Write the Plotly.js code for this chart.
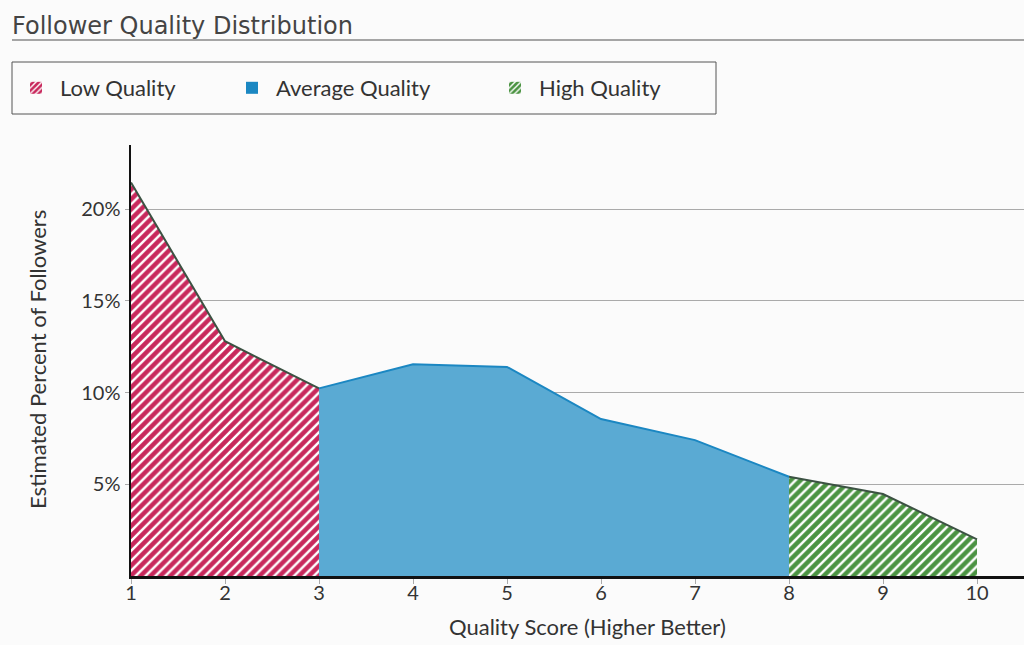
<!DOCTYPE html>
<html>
<head>
<meta charset="utf-8">
<script src="https://cdn.plot.ly/plotly-3.0.1.min.js"></script>
<style>
  html, body { margin: 0; padding: 0; background: #fbfbfb; }
  #chart { width: 1024px; height: 645px; }
</style>
</head>
<body>
<div id="chart"></div>
<script>
// quality score on the x axis, estimated percent of followers on y
var scores = [1, 2, 3, 4, 5, 6, 7, 8, 9, 10];
var percents = [21.45, 12.8, 10.23, 11.54, 11.4, 8.56, 7.41, 5.41, 4.47, 2.0];

// where each band starts / ends
var lowEnd = 3;     // scores 1..3
var highStart = 8;  // scores 8..10

var bandNames = ['Low Quality', 'Average Quality', 'High Quality'];
var yTicks = [5, 10, 15, 20];
var yTickText = ['5%', '10%', '15%', '20%'];

var red = '#c8285c';
var blue = '#5aaad3';
var blueLine = '#1b87c2';
var green = '#4b9342';
var darkLine = '#3c5243';

function band(from, to) {
  return {
    x: scores.filter(function (s) { return s >= from && s <= to; }),
    y: percents.filter(function (p, i) { return scores[i] >= from && scores[i] <= to; })
  };
}

var low = band(1, lowEnd);
var avg = band(lowEnd, highStart);
var high = band(highStart, 10);

var stripe = function (c) {
  return { shape: '/', bgcolor: c, fgcolor: '#ffffff', size: 7, solidity: 0.35 };
};

var traceLow = {
  x: low.x, y: low.y, type: 'scatter', mode: 'lines', fill: 'tozeroy',
  fillcolor: red, fillpattern: stripe(red),
  line: { color: darkLine, width: 2 }, showlegend: false
};
var traceAvg = {
  x: avg.x, y: avg.y, type: 'scatter', mode: 'lines', fill: 'tozeroy',
  fillcolor: blue, line: { color: blueLine, width: 2 }, showlegend: false
};
var traceHigh = {
  x: high.x, y: high.y, type: 'scatter', mode: 'lines', fill: 'tozeroy',
  fillcolor: green, fillpattern: stripe(green),
  line: { color: darkLine, width: 2 }, showlegend: false
};

// empty bar traces just for the square legend swatches
function legendItem(name, color, pattern, w) {
  var m = { color: color, line: { width: 0 } };
  if (pattern) m.pattern = { shape: '/', bgcolor: color, fgcolor: '#ffffff', size: 5, solidity: 0.35 };
  return { x: [null], y: [null], type: 'bar', name: name, marker: m, legendwidth: w };
}

var data = [
  traceLow, traceAvg, traceHigh,
  legendItem(bandNames[0], red, true, 163),
  legendItem(bandNames[1], blueLine, false, 210),
  legendItem(bandNames[2], green, true, 130)
];

// plot area is 131..1024 px wide, 145..576 px tall
var pw = 893, ph = 431;
function px(x) { return (x - 131) / pw; }
function py(y) { return (576 - y) / ph; }

var layout = {
  width: 1024,
  height: 645,
  paper_bgcolor: '#fbfbfb',
  plot_bgcolor: '#fbfbfb',
  margin: { l: 131, r: 0, t: 145, b: 69 },
  font: { family: 'Lato, sans-serif', color: '#333' },
  title: {
    text: 'Follower Quality Distribution',
    xref: 'container', x: 12 / 1024, xanchor: 'left',
    yref: 'container', y: 1 - 26 / 645, yanchor: 'middle',
    font: { family: 'DejaVu Sans, sans-serif', size: 24, color: '#444' }
  },
  showlegend: true,
  legend: {
    orientation: 'h',
    x: px(12), xanchor: 'left',
    y: py(88), yanchor: 'middle',
    itemwidth: 38,
    font: { size: 22, color: '#333' },
    bgcolor: 'rgba(0,0,0,0)'
  },
  xaxis: {
    type: 'linear',
    range: [1, 10.5],
    tickvals: scores,
    ticks: 'outside', ticklen: 5, tickcolor: '#aaa',
    ticklabelstandoff: -8,
    tickfont: { size: 20, color: '#333' },
    showgrid: false, zeroline: false,
    showline: true, linecolor: '#111', linewidth: 3,
    fixedrange: true
  },
  yaxis: {
    range: [0, 23.5],
    tickvals: yTicks,
    ticktext: yTickText,
    ticks: 'outside', ticklen: 4, tickcolor: '#aaa',
    tickfont: { size: 20, color: '#333' },
    showgrid: true, gridcolor: '#aaa', gridwidth: 1,
    zeroline: false,
    showline: true, linecolor: '#111', linewidth: 2.5,
    fixedrange: true
  },
  annotations: [
    { text: 'Quality Score (Higher Better)', xref: 'paper', yref: 'paper',
      x: px(587), y: py(626), xanchor: 'center', yanchor: 'middle', showarrow: false,
      font: { size: 22, color: '#333' } },
    { text: 'Estimated Percent of Followers', xref: 'paper', yref: 'paper',
      x: px(37), y: py(360), xanchor: 'center', yanchor: 'middle', showarrow: false,
      textangle: -90, font: { size: 22, color: '#333' } }
  ],
  shapes: [
    // rule under the title
    { type: 'line', xref: 'paper', yref: 'paper', x0: px(12), x1: 1, y0: py(40), y1: py(40),
      line: { color: '#888', width: 1.5 } },
    // legend frame
    { type: 'rect', xref: 'paper', yref: 'paper', x0: px(12), x1: px(716), y0: py(114), y1: py(62),
      line: { color: '#555', width: 1 } }
  ]
};

Plotly.newPlot('chart', data, layout, { displayModeBar: false, staticPlot: true });
</script>
</body>
</html>
